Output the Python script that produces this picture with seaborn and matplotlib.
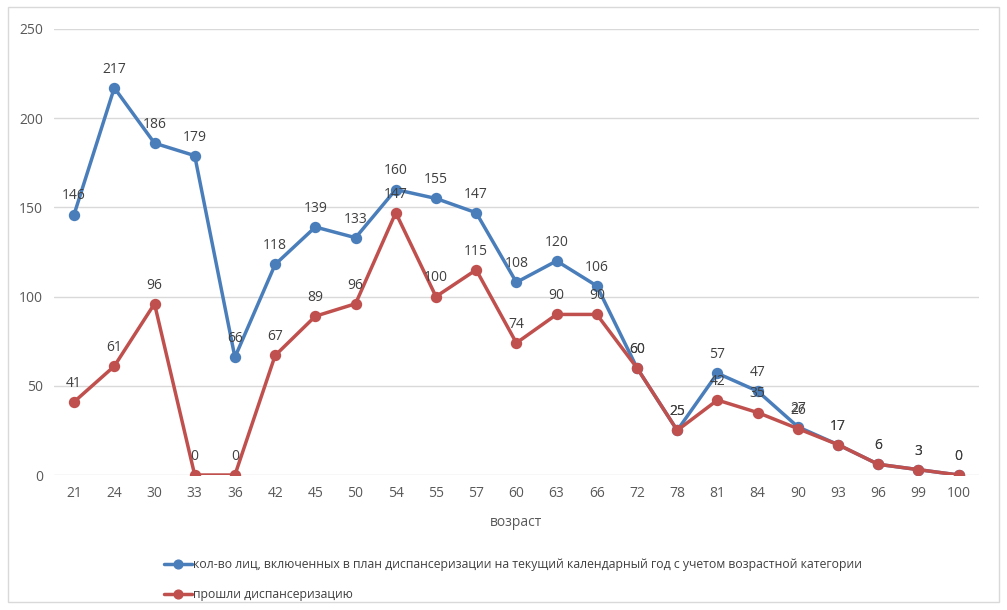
import matplotlib
matplotlib.use("Agg")
import matplotlib.pyplot as plt
import seaborn as sns
import pandas as pd
from matplotlib.patches import Rectangle
from matplotlib.lines import Line2D

ages = ["21", "24", "30", "33", "36", "42", "45", "50", "54", "55", "57", "60",
        "63", "66", "72", "78", "81", "84", "90", "93", "96", "99", "100"]
planned = [146, 217, 186, 179, 66, 118, 139, 133, 160, 155, 147, 108,
           120, 106, 60, 25, 57, 47, 27, 17, 6, 3, 0]
passed = [41, 61, 96, 0, 0, 67, 89, 96, 147, 100, 115, 74,
          90, 90, 60, 25, 42, 35, 26, 17, 6, 3, 0]
series_names = ["кол-во лиц, включенных в план диспансеризации на текущий календарный год с учетом возрастной категории",
                "прошли диспансеризацию"]
colors = ["#4a7ebb", "#c0504d"]

sns.set_theme(style="white")
plt.rcParams['font.family'] = ['Open Sans', 'DejaVu Sans']

fig = plt.figure(figsize=(10.07, 6.10), dpi=100)
ax = fig.add_axes([0.0536, 0.2213, 0.9184, 0.7312])

df = pd.DataFrame({"age": ages * 2,
                   "value": planned + passed,
                   "series": [series_names[0]] * len(ages) + [series_names[1]] * len(ages)})

for name, col in zip(series_names, colors):
    sub = df[df["series"] == name]
    sns.pointplot(data=sub, x="age", y="value", color=col, markers="o",
                  linestyles="-", ax=ax, order=ages, linewidth=2.5,
                  markersize=6.3, errorbar=None)

for vals in (planned, passed):
    for i, v in enumerate(vals):
        ax.annotate(str(v), (i, v), textcoords="offset points", xytext=(0, 8),
                    ha="center", va="bottom", fontsize=10, color="#404040")

ax.set_ylim(0, 250)
ax.set_yticks([0, 50, 100, 150, 200, 250])
ax.set_xlim(-0.5, len(ages) - 0.5)
ax.grid(axis="y", color="#d9d9d9", linewidth=1)
ax.set_axisbelow(True)
for s in ax.spines.values():
    s.set_visible(False)
ax.tick_params(axis="both", length=0, labelsize=10, labelcolor="#595959", pad=8)
ax.set_ylabel("")
ax.set_xlabel("возраст", fontsize=10, color="#595959", labelpad=10)

handles = [Line2D([0], [0], color=c, lw=2.5, marker="o", markersize=6.3) for c in colors]
fig.legend(handles, series_names, loc="lower left", bbox_to_anchor=(0.152, -0.003),
           frameon=False, fontsize=8.8, labelcolor="#404040", handlelength=2.3,
           handletextpad=0.1, labelspacing=1.35)

fig.patches.append(Rectangle((0.008, 0.013), 0.984, 0.975, transform=fig.transFigure,
                             fill=False, edgecolor="#d9d9d9", linewidth=1))

fig.savefig("out.png", dpi=100)
